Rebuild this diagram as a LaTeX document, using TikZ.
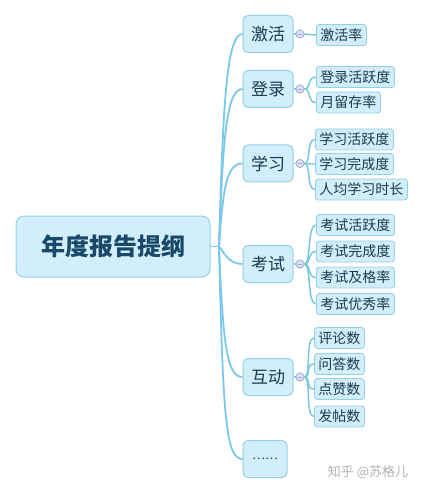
\documentclass[tikz,border=0pt]{standalone}
\usepackage{fontspec}
\setmainfont{Noto Sans CJK SC}
\newfontfamily\cjk{Noto Sans CJK SC}
\definecolor{boxfill}{HTML}{D2EEFA}
\definecolor{boxline}{HTML}{96D0E8}
\definecolor{txt}{HTML}{1B3A52}
\definecolor{roottxt}{HTML}{1A4868}
\definecolor{trunk}{HTML}{7CC8E8}
\definecolor{sub}{HTML}{78CAD8}
\definecolor{knob}{HTML}{DCE0F4}
\definecolor{knobline}{HTML}{A2AED2}
\tikzset{
  rootbox/.style={draw=boxline, fill=boxfill, line width=1pt, rounded corners=8pt,
    minimum width=194pt, minimum height=61pt, inner sep=0pt,
    font=\cjk\bfseries\fontsize{24}{28}\selectfont, text=roottxt},
  lvone/.style={draw=boxline, fill=boxfill, line width=1pt, rounded corners=5pt,
    minimum width=50pt, minimum height=37pt, inner sep=0pt,
    font=\cjk\fontsize{17}{20}\selectfont, text=txt},
  lvtwo/.style={draw=boxline, fill=boxfill, line width=0.9pt, rounded corners=3pt,
    minimum height=21pt, inner xsep=4pt, inner ysep=0pt, anchor=west,
    font=\cjk\fontsize{14}{16}\selectfont, text=txt},
  knobnode/.style={circle, draw=knobline, fill=knob, line width=0.7pt,
    minimum size=8pt, inner sep=0pt},
  trunkline/.style={draw=trunk, line width=1.8pt},
  subline/.style={draw=sub, line width=1.5pt},
}
\begin{document}
\begin{tikzpicture}[x=1pt,y=-1pt]
\useasboundingbox[fill=white] (0,0) rectangle (422,494);

% root
\node[rootbox] (root) at (113,246.5) {年度报告提纲};
\coordinate (stub) at (219,246.5);

% level one
\node[lvone] (a) at (268,34) {激活};
\node[lvone] (b) at (268,89) {登录};
\node[lvone] (c) at (268,163.5) {学习};
\node[lvone] (d) at (268,264) {考试};
\node[lvone] (e) at (268,377) {互动};
\node[lvone, minimum width=44pt, font=\cjk\fontsize{12}{14}\selectfont] (f) at (265,459) {……};

% trunk connectors
\draw[trunkline] (root.east) -- (stub);
\draw[trunkline] (stub) .. controls (223,110) and (226,34) .. (a.west);
\draw[trunkline] (stub) .. controls (223,140) and (226,89) .. (b.west);
\draw[trunkline] (stub) .. controls (223,190) and (226,163.5) .. (c.west);
\draw[trunkline] (stub) .. controls (224,252) and (228,264) .. (d.west);
\draw[trunkline] (stub) .. controls (223,340) and (226,377) .. (e.west);
\draw[trunkline] (stub) .. controls (223,420) and (226,459) .. (f.west);

% knobs
\node[knobnode] (ka) at (300,34) {};
\node[knobnode] (kb) at (300,89) {};
\node[knobnode] (kc) at (300,163.5) {};
\node[knobnode] (kd) at (300,264) {};
\node[knobnode] (ke) at (300,377) {};

% level two
\node[lvtwo] (a1) at (316,35) {激活率};
\node[lvtwo] (b1) at (316,77) {登录活跃度};
\node[lvtwo] (b2) at (316,102.5) {月留存率};
\node[lvtwo] (c1) at (315,139.5) {学习活跃度};
\node[lvtwo] (c2) at (315,164) {学习完成度};
\node[lvtwo] (c3) at (315,189.5) {人均学习时长};
\node[lvtwo] (d1) at (316,225) {考试活跃度};
\node[lvtwo] (d2) at (316,251.5) {考试完成度};
\node[lvtwo] (d3) at (316,277.5) {考试及格率};
\node[lvtwo] (d4) at (316,304) {考试优秀率};
\node[lvtwo] (e1) at (314,338) {评论数};
\node[lvtwo] (e2) at (314,364) {问答数};
\node[lvtwo] (e3) at (314,389) {点赞数};
\node[lvtwo] (e4) at (314,416.5) {发帖数};

% level one to knobs
\foreach \p/\k in {a/ka,b/kb,c/kc,d/kd,e/ke}{
  \draw[trunkline, line width=1.2pt] (\p.east) -- (\k.west);
}

% knobs to children
\draw[subline] (ka.east) -- (a1.west);
\foreach \k/\ch in {kb/b1,kb/b2,kc/c1,kc/c2,kc/c3,kd/d1,kd/d2,kd/d3,kd/d4,ke/e1,ke/e2,ke/e3,ke/e4}{
  \draw[subline] (\k.east) .. controls +(7,0) and +(-9,0) .. (\ch.west);
}

% knob minus signs (on top)
\foreach \k in {ka,kb,kc,kd,ke}{
  \node[knobnode] at (\k) {};
  \draw[knobline, line width=0.8pt] ([xshift=-2.2pt]\k.center) -- ([xshift=2.2pt]\k.center);
}

% watermark
\node[font=\cjk\fontsize{13}{15}\selectfont, text=black!30] (wm) at (368,472) {知乎 @苏格儿};
\end{tikzpicture}
\end{document}
